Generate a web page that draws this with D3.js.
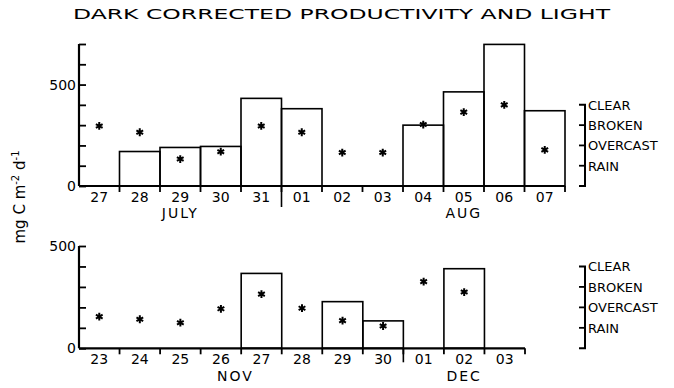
<!DOCTYPE html>
<html><head><meta charset="utf-8">
<script src="https://cdn.jsdelivr.net/npm/d3@7"></script>
<style>
body{margin:0;background:#fff}
text{font-family:"DejaVu Sans",sans-serif;fill:#000}
</style></head>
<body><svg id="c" width="674" height="388"></svg>
<script>
// ---- data ----
const topDays   = ["27","28","29","30","31","01","02","03","04","05","06","07"];
const topProd   = [0,170,190,195,432,381,0,0,300,464,698,371];
const topLight  = [2.96,2.65,1.33,1.69,2.96,2.65,1.65,1.65,3.03,3.64,4.0,1.78];
const botDays   = ["23","24","25","26","27","28","29","30","01","02","03"];
const botProd   = [0,0,0,0,366,0,228,134,0,389,0];
const botLight  = [1.55,1.42,1.25,1.93,2.65,1.96,1.35,1.09,3.26,2.75,null];
const lightLabels = ["RAIN","OVERCAST","BROKEN","CLEAR"];
const topMonths = [{label:"JULY",day:"29"},{label:"AUG",day:"05"}];
const botMonths = [{label:"NOV",day:"27",shift:-26},{label:"DEC",day:"02",shift:0}];
const titleText = "DARK CORRECTED PRODUCTIVITY AND LIGHT";

const svg = d3.select("#c");

svg.append("text").attr("x",73).attr("y",19).attr("font-size",14)
  .attr("textLength",537).attr("lengthAdjust","spacingAndGlyphs").text(titleText);

svg.append("text").attr("transform","translate(25,197) rotate(-90)")
  .attr("text-anchor","middle").attr("font-size",15)
  .html('mg C m<tspan dy="-6" font-size="10">-2</tspan><tspan dy="6"> d</tspan><tspan dy="-6" font-size="10">-1</tspan>');

function panel(cfg){
  const g = svg.append("g");
  const x = d3.scaleBand().domain(cfg.days).range([79,cfg.xEnd]).paddingInner(0).paddingOuter(0);
  const y = d3.scaleLinear().domain([0,cfg.yMax]).range([cfg.y0,cfg.yTop]);
  const yl = d3.scaleLinear().domain([0,4]).range([y(0),y(400)]);

  // bars
  g.selectAll("rect.bar").data(cfg.prod.map((v,i)=>({d:cfg.days[i],v})).filter(o=>o.v>0))
    .enter().append("rect")
    .attr("x",o=>x(o.d)).attr("width",x.bandwidth())
    .attr("y",o=>y(o.v)).attr("height",o=>y(0)-y(o.v))
    .attr("fill","none").attr("stroke","#000").attr("stroke-width",1.6);

  // left axis
  const ya = d3.axisRight(y).tickValues(d3.range(0,cfg.yMax+1,100)).tickSize(7).tickFormat("");
  const ag = g.append("g").attr("transform","translate(79,0)").call(ya);
  ag.select(".domain").attr("stroke-width",2.2).attr("d",`M0,${y(cfg.yMax)}V${y(0)}`);
  ag.selectAll(".tick line").attr("stroke-width",1.8);
  [0,500].forEach(v=>{
    g.append("text").attr("x",76).attr("y",y(v)+5).attr("text-anchor","end")
      .attr("font-size",14).text(v);
  });

  // x axis
  const xa = d3.axisBottom(x).tickSize(0).tickPadding(6);
  const xg = g.append("g").attr("transform",`translate(0,${y(0)})`).call(xa);
  xg.select(".domain").attr("stroke-width",2.2).attr("d",`M79,0H${cfg.xEnd}`);
  xg.selectAll(".tick text").attr("font-size",14).attr("font-family","DejaVu Sans");
  const bounds = cfg.days.map(d=>x(d)).concat([cfg.xEnd]).slice(1);
  g.selectAll("line.bt").data(bounds).enter().append("line")
    .attr("x1",b=>b).attr("x2",b=>b).attr("y1",y(0)).attr("y2",y(0)+6)
    .attr("stroke","#000").attr("stroke-width",1.8);
  g.append("line").attr("x1",x(cfg.monthBreak)).attr("x2",x(cfg.monthBreak))
    .attr("y1",y(0)).attr("y2",y(0)+cfg.breakLen).attr("stroke","#000").attr("stroke-width",1.6);

  // months
  cfg.months.forEach(m=>{
    g.append("text").attr("x",x(m.day)+x.bandwidth()/2+(m.shift||0)).attr("y",y(0)+cfg.monthDy)
      .attr("text-anchor","middle").attr("font-size",14).attr("letter-spacing",2).text(m.label);
  });

  // light stars
  const star = d3.symbol().type(d3.symbolAsterisk).size(42);
  g.selectAll("path.star").data(cfg.light.map((v,i)=>({d:cfg.days[i],v})).filter(o=>o.v!=null))
    .enter().append("path").attr("d",star)
    .attr("transform",o=>`translate(${x(o.d)+x.bandwidth()/2},${yl(o.v)})`)
    .attr("fill","none").attr("stroke","#000").attr("stroke-width",2);

  // right light axis
  const rx = 585;
  const r = g.append("g");
  r.append("path").attr("d",`M${rx-6},${yl(4)}H${rx}V${yl(0)}H${rx-6}`)
    .attr("fill","none").attr("stroke","#000").attr("stroke-width",2);
  [1,2,3].forEach(v=>{
    r.append("line").attr("x1",rx-6).attr("x2",rx).attr("y1",yl(v)).attr("y2",yl(v))
      .attr("stroke","#000").attr("stroke-width",1.8);
  });
  lightLabels.forEach((l,i)=>{
    r.append("text").attr("x",rx+3).attr("y",yl(i+1)+5).attr("font-size",13).text(l);
  });
}

panel({days:topDays,prod:topProd,light:topLight,xEnd:565,yMax:700,y0:186,yTop:44,
  months:topMonths,monthBreak:"01",breakLen:21,monthDy:32});
panel({days:botDays,prod:botProd,light:botLight,xEnd:525,yMax:500,y0:348.3,yTop:246,
  months:botMonths,monthBreak:"01",breakLen:14,monthDy:33});
</script></body></html>
